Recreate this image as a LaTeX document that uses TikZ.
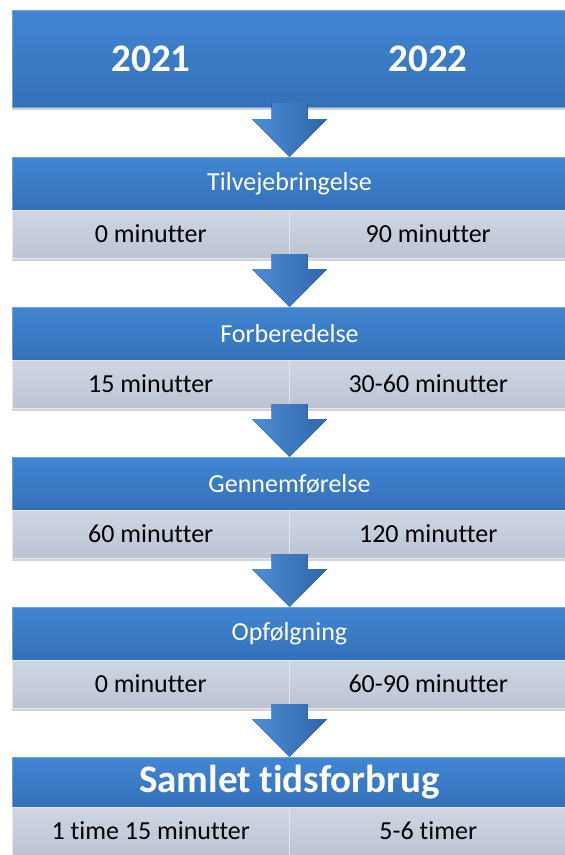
\documentclass[tikz,border=0pt]{standalone}
\usepackage{fontspec}
\setmainfont[Ligatures=NoCommon]{Carlito}
\usepackage{xcolor}
\usetikzlibrary{shapes,arrows,positioning,fit,calc,shadows}

\definecolor{bluetop}{HTML}{4186D2}
\definecolor{bluebot}{HTML}{3570B9}
\definecolor{blueedge}{HTML}{6FA3E0}
\definecolor{greytop}{HTML}{CFD6E3}
\definecolor{greybot}{HTML}{BCC4D4}
\definecolor{greyedge}{HTML}{E4E8F0}
\definecolor{arrowlight}{HTML}{4E8DD6}
\definecolor{arrowdark}{HTML}{2F66AA}

% block arrow from the bottom of one row to the top of the next
\newcommand{\flowarrow}[2]{%
  \fill[arrowfill] ($(#1)+(-18,4)$) -- ($(#2)+(-18,38)$) -- ($(#2)+(-37.5,38)$) -- (#2)
    -- ($(#2)+(37.5,38)$) -- ($(#2)+(18,38)$) -- ($(#1)+(18,4)$) -- cycle;}

\begin{document}
\begin{tikzpicture}[x=1pt, y=1pt,
    header/.style={rectangle, draw=blueedge, line width=1pt, top color=bluetop, bottom color=bluebot,
        minimum width=555pt, minimum height=53pt, inner sep=0pt, outer sep=0pt, text=white,
        font=\fontsize{26}{30}\selectfont,
        drop shadow={shadow xshift=0pt, shadow yshift=-3pt, opacity=.35}},
    cell/.style={rectangle, draw=greyedge, line width=1pt, top color=greytop, bottom color=greybot,
        minimum width=277.5pt, minimum height=48pt, inner sep=0pt, outer sep=0pt, text=black,
        font=\fontsize{26}{30}\selectfont,
        drop shadow={shadow xshift=0pt, shadow yshift=-3pt, opacity=.35}},
    bigtext/.style={text=white, font=\fontsize{39}{44}\selectfont\bfseries},
    arrowfill/.style={left color=arrowlight, right color=arrowdark}]
    \useasboundingbox (0,0) rectangle (565,-855);

    % years
    \node (top) [header, minimum height=97pt] at (289.5,-58.5) {};
    \node (y21) [bigtext] at ($(top.center)+(-138.5,0)$) {2021};
    \node (y22) [bigtext] at ($(top.center)+(138.5,0)$) {2022};

    % Tilvejebringelse
    \node (h1) [header, below=50pt of top] {Tilvejebringelse};
    \node (a1) [cell, anchor=north west] at (h1.south west) {0 minutter};
    \node (b1) [cell, anchor=north east] at (h1.south east) {90 minutter};

    % Forberedelse
    \node (h2) [header, below=49pt of a1.south east] {Forberedelse};
    \node (a2) [cell, anchor=north west] at (h2.south west) {15 minutter};
    \node (b2) [cell, anchor=north east] at (h2.south east) {30-60 minutter};

    % Gennemførelse
    \node (h3) [header, below=49pt of a2.south east] {Gennemførelse};
    \node (a3) [cell, anchor=north west] at (h3.south west) {60 minutter};
    \node (b3) [cell, anchor=north east] at (h3.south east) {120 minutter};

    % Opfølgning
    \node (h4) [header, below=49pt of a3.south east] {Opfølgning};
    \node (a4) [cell, anchor=north west] at (h4.south west) {0 minutter};
    \node (b4) [cell, anchor=north east] at (h4.south east) {60-90 minutter};

    % total
    \node (h5) [header, minimum height=50pt, below=49pt of a4.south east] {\fontsize{39}{44}\selectfont\bfseries Samlet tidsforbrug};
    \node (a5) [cell, anchor=north west] at (h5.south west) {1 time 15 minutter};
    \node (b5) [cell, anchor=north east] at (h5.south east) {5-6 timer};

    \flowarrow{top.south}{h1.north}
    \flowarrow{a1.south east}{h2.north}
    \flowarrow{a2.south east}{h3.north}
    \flowarrow{a3.south east}{h4.north}
    \flowarrow{a4.south east}{h5.north}
\end{tikzpicture}
\end{document}
